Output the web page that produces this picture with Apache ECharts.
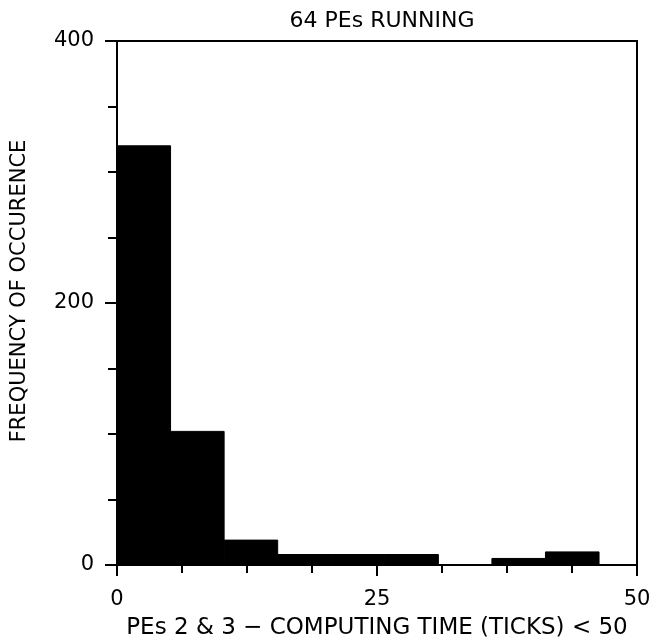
<!DOCTYPE html>
<html>
<head>
<meta charset="utf-8">
<script src="https://cdn.jsdelivr.net/npm/echarts@6/dist/echarts.min.js"></script>
<style>
  html, body { margin: 0; padding: 0; background: #fff; }
  #chart { width: 659px; height: 641px; }
</style>
</head>
<body>
<div id="chart"></div>
<script>
// histogram bins (computing time in ticks) and their counts
const binStart = [0, 5.15, 10.3, 15.45, 20.6, 25.75, 30.9, 36.05, 41.2, 46.35]
const binEnd = [5.15, 10.3, 15.45, 20.6, 25.75, 30.9, 36.05, 41.2, 46.35, 50]
const counts = [320, 102, 19, 8, 8, 8, 0, 5, 10, 0]

const FONT = 'DejaVu Sans'

const chart = echarts.init(document.getElementById('chart'))

const data = binStart.map((s, i) => [s, binEnd[i], counts[i]])

chart.setOption({
  animation: false,
  backgroundColor: '#fff',
  title: {
    text: '64 PEs RUNNING',
    left: 377,
    textAlign: 'center',
    top: 5,
    textStyle: { fontFamily: FONT, fontWeight: 'normal', fontSize: 22, color: '#000' }
  },
  grid: {
    left: 117,
    right: 22,
    top: 41,
    bottom: 76,
    outerBoundsMode: 'none',
    containLabel: false,
    show: true,
    borderColor: '#000',
    borderWidth: 2,
    backgroundColor: 'transparent'
  },
  xAxis: {
    type: 'value',
    min: 0,
    max: 50,
    interval: 25,
    name: 'PEs 2 & 3 \u2212 COMPUTING TIME (TICKS) < 50',
    nameLocation: 'middle',
    nameGap: 52,
    nameTextStyle: { fontFamily: FONT, fontSize: 23, color: '#000' },
    axisLine: { lineStyle: { color: '#000', width: 2 } },
    axisTick: { length: 11, lineStyle: { color: '#000', width: 2 } },
    minorTick: { show: true, splitNumber: 4, length: 8, lineStyle: { color: '#000', width: 2 } },
    axisLabel: { fontFamily: FONT, fontSize: 21, color: '#000', margin: 24 },
    splitLine: { show: false }
  },
  yAxis: {
    type: 'value',
    min: 0,
    max: 400,
    interval: 200,
    name: 'FREQUENCY OF OCCURENCE',
    nameLocation: 'middle',
    nameGap: 87,
    nameTextStyle: { fontFamily: FONT, fontSize: 21, color: '#000', padding: [0, 0, 0, 24] },
    axisLine: { show: true, lineStyle: { color: '#000', width: 2 } },
    axisTick: { show: true, length: 12, lineStyle: { color: '#000', width: 2 } },
    minorTick: { show: true, splitNumber: 4, length: 9, lineStyle: { color: '#000', width: 2 } },
    axisLabel: { fontFamily: FONT, fontSize: 21, color: '#000', margin: 23 },
    splitLine: { show: false }
  },
  series: [
    {
      type: 'custom',
      data: data,
      encode: { x: [0, 1], y: 2 },
      renderItem: function (params, api) {
        const p0 = api.coord([api.value(0), api.value(2)])
        const p1 = api.coord([api.value(1), 0])
        return {
          type: 'rect',
          shape: { x: p0[0], y: p0[1], width: p1[0] - p0[0], height: p1[1] - p0[1] },
          style: { fill: '#000', stroke: '#000', lineWidth: 1 }
        }
      }
    }
  ]
})
</script>
</body>
</html>
